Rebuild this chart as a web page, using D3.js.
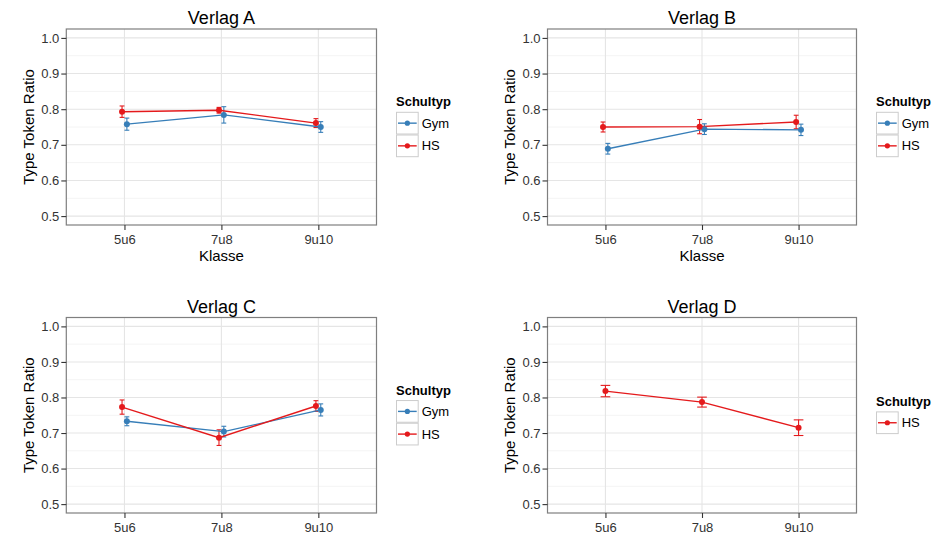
<!DOCTYPE html>
<html>
<head>
<meta charset="utf-8">
<script src="https://cdn.jsdelivr.net/npm/d3@7"></script>
<style>
  body { margin: 0; background: #fff; }
  svg { font-family: "Liberation Sans", Arial, Helvetica, sans-serif; }
</style>
</head>
<body>
<div id="chart"></div>
<script>
// categories
var klassen = ["5u6", "7u8", "9u10"];
var verlage = ["Verlag A", "Verlag B", "Verlag C", "Verlag D"];
var schultypen = ["Gym", "HS"];
var yTicks = [0.5, 0.6, 0.7, 0.8, 0.9, 1.0];

// means and error half-widths per Verlag (null = no data)
var gymMittel = [[0.758, 0.784, 0.750], [0.689, 0.744, 0.742], [0.733, 0.704, 0.765], null];
var gymFehler = [[0.017, 0.023, 0.015], [0.015, 0.015, 0.016], [0.0125, 0.015, 0.017], null];
var hsMittel  = [[0.793, 0.797, 0.761], [0.750, 0.751, 0.764], [0.773, 0.687, 0.776], [0.818, 0.787, 0.715]];
var hsFehler  = [[0.016, 0.008, 0.0125], [0.014, 0.020, 0.019], [0.020, 0.022, 0.015], [0.016, 0.014, 0.022]];

var farben = { Gym: "#377EB8", HS: "#E41A1C" };

var width = 948, height = 536;

var svg = d3.select("#chart").append("svg")
  .attr("width", width)
  .attr("height", height);

// plot panel boxes
var cols = [[66.3, 376.5], [547.5, 856.5]];
var rows = [[29, 225], [317.5, 513]];

verlage.forEach(function(name, i) {
  var xr = cols[i % 2], yr = rows[Math.floor(i / 2)];
  var x = d3.scalePoint().domain(klassen).range(xr).padding(0.6);
  var y = d3.scaleLinear().domain([0.475, 1.025]).range([yr[1], yr[0]]);
  var step = x.step();

  var g = svg.append("g");

  // background + grid
  g.append("rect")
    .attr("x", xr[0]).attr("y", yr[0])
    .attr("width", xr[1] - xr[0]).attr("height", yr[1] - yr[0])
    .attr("fill", "#fff");

  var minor = d3.range(0.55, 1.0, 0.1);
  g.selectAll(".minor").data(minor).enter().append("line")
    .attr("x1", xr[0]).attr("x2", xr[1])
    .attr("y1", d => y(d)).attr("y2", d => y(d))
    .attr("stroke", "#f4f4f4").attr("stroke-width", 1);

  g.selectAll(".majorY").data(yTicks).enter().append("line")
    .attr("x1", xr[0]).attr("x2", xr[1])
    .attr("y1", d => y(d)).attr("y2", d => y(d))
    .attr("stroke", "#e5e5e5").attr("stroke-width", 1.1);

  g.selectAll(".majorX").data(klassen).enter().append("line")
    .attr("x1", d => x(d)).attr("x2", d => x(d))
    .attr("y1", yr[0]).attr("y2", yr[1])
    .attr("stroke", "#e5e5e5").attr("stroke-width", 1.1);

  // series present in this panel
  var serien = [];
  if (gymMittel[i]) serien.push({ typ: "Gym", m: gymMittel[i], e: gymFehler[i] });
  if (hsMittel[i]) serien.push({ typ: "HS", m: hsMittel[i], e: hsFehler[i] });

  var n = serien.length;
  var dodge = 0.1 * step;            // dodge width
  var barW = 0.1 * step / n;         // errorbar width per group
  serien.forEach(function(s, j) {
    // HS sits left, Gym right
    var off = n > 1 ? ((n - 1) / 2 - j) * (dodge / n) : 0;
    s.pts = klassen.map(function(k, ki) {
      return { cx: x(k) + off, m: s.m[ki], e: s.e[ki] };
    });
  });

  // errorbars
  serien.forEach(function(s) {
    var eb = g.append("g").attr("stroke", farben[s.typ]).attr("stroke-width", 1.1).attr("fill", "none");
    s.pts.forEach(function(p) {
      eb.append("line").attr("x1", p.cx).attr("x2", p.cx)
        .attr("y1", y(p.m - p.e)).attr("y2", y(p.m + p.e));
      eb.append("line").attr("x1", p.cx - barW / 2).attr("x2", p.cx + barW / 2)
        .attr("y1", y(p.m - p.e)).attr("y2", y(p.m - p.e));
      eb.append("line").attr("x1", p.cx - barW / 2).attr("x2", p.cx + barW / 2)
        .attr("y1", y(p.m + p.e)).attr("y2", y(p.m + p.e));
    });
  });

  // lines
  var line = d3.line().x(d => d.cx).y(d => y(d.m));
  serien.forEach(function(s) {
    g.append("path").datum(s.pts)
      .attr("d", line)
      .attr("fill", "none")
      .attr("stroke", farben[s.typ])
      .attr("stroke-width", 1.4);
  });

  // points
  serien.forEach(function(s) {
    g.selectAll(null).data(s.pts).enter().append("circle")
      .attr("cx", d => d.cx).attr("cy", d => y(d.m))
      .attr("r", 3).attr("fill", farben[s.typ]);
  });

  // border
  g.append("rect")
    .attr("x", xr[0]).attr("y", yr[0])
    .attr("width", xr[1] - xr[0]).attr("height", yr[1] - yr[0])
    .attr("fill", "none").attr("stroke", "#7f7f7f").attr("stroke-width", 1.2);

  // axes
  var yAxis = g.append("g")
    .attr("transform", "translate(" + xr[0] + ",0)")
    .call(d3.axisLeft(y).tickValues(yTicks).tickFormat(d3.format(".1f")).tickSize(5).tickPadding(2));
  var xAxis = g.append("g")
    .attr("transform", "translate(0," + yr[1] + ")")
    .call(d3.axisBottom(x).tickSize(5).tickPadding(4.5));
  [yAxis, xAxis].forEach(function(a) {
    a.select(".domain").remove();
    a.selectAll(".tick line").attr("stroke", "#333").attr("stroke-width", 1.1);
    a.selectAll(".tick text").attr("fill", "#333").style("font-size", "13px")
      .style("font-family", '"Liberation Sans", Arial, sans-serif');
  });

  // titles
  var cx = (xr[0] + xr[1]) / 2, cy = (yr[0] + yr[1]) / 2;
  g.append("text").attr("x", cx).attr("y", yr[0] - 5)
    .attr("text-anchor", "middle").style("font-size", "18px").text(name);
  // x title only fits on the top row (bottom row is cut off by the frame)
  if (yr[1] + 36 < height) {
    g.append("text").attr("x", cx).attr("y", yr[1] + 35.7)
      .attr("text-anchor", "middle").style("font-size", "15px").text("Klasse");
  }
  g.append("text")
    .attr("transform", "translate(" + (xr[0] - 32.3) + "," + cy + ") rotate(-90)")
    .attr("text-anchor", "middle").style("font-size", "15px").text("Type Token Ratio");

  // legend
  var keyH = 22.7;
  var lh = 18 + n * keyH;
  var lx = xr[1] + 19.5;
  var ly = cy - 1.5 - lh / 2;
  var leg = g.append("g").attr("transform", "translate(" + lx + "," + ly + ")");
  leg.append("text").attr("x", 0).attr("y", 8).attr("dy", "0.35em")
    .style("font-size", "13px").style("font-weight", "bold").text("Schultyp");
  serien.forEach(function(s, j) {
    var ky = 18 + j * keyH;
    leg.append("rect").attr("x", 0.5).attr("y", ky + 0.5)
      .attr("width", keyH - 1).attr("height", keyH - 1)
      .attr("fill", "#fff").attr("stroke", "#cccccc").attr("stroke-width", 1);
    leg.append("line").attr("x1", 2).attr("x2", keyH - 2)
      .attr("y1", ky + keyH / 2).attr("y2", ky + keyH / 2)
      .attr("stroke", farben[s.typ]).attr("stroke-width", 1.4);
    leg.append("circle").attr("cx", keyH / 2).attr("cy", ky + keyH / 2)
      .attr("r", 2.6).attr("fill", farben[s.typ]);
    leg.append("text").attr("x", keyH + 3).attr("y", ky + keyH / 2).attr("dy", "0.35em")
      .style("font-size", "13px").text(s.typ);
  });
});
</script>
</body>
</html>
